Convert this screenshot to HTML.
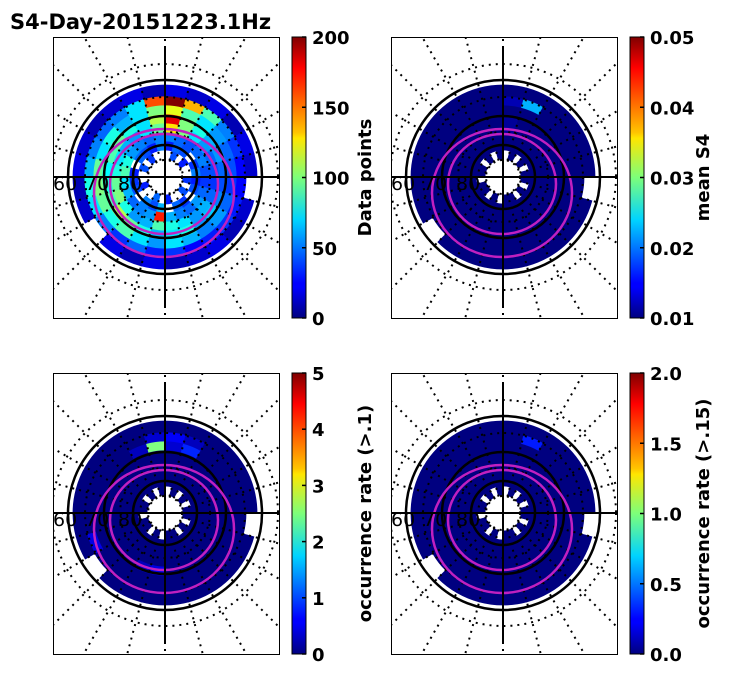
<!DOCTYPE html>
<html><head><meta charset="utf-8"><style>
body{margin:0;background:#fff;}
svg{display:block;font-family:"DejaVu Sans","Liberation Sans",sans-serif;}
</style></head><body>
<svg id="fig" width="731" height="674" viewBox="0 0 731 674">
<defs>
<linearGradient id="jet" x1="0" y1="1" x2="0" y2="0">
<stop offset="0" stop-color="#000080"/><stop offset="0.11" stop-color="#0000ff"/>
<stop offset="0.125" stop-color="#0000ff"/><stop offset="0.35" stop-color="#00d4ff"/>
<stop offset="0.5" stop-color="#7dff7a"/><stop offset="0.64" stop-color="#ffe600"/>
<stop offset="0.66" stop-color="#ffc400"/><stop offset="0.89" stop-color="#ff0000"/>
<stop offset="1" stop-color="#800000"/>
</linearGradient>
</defs>
<text x="10" y="29" font-size="21" font-weight="bold">S4-Day-20151223.1Hz</text>
</svg>
<script>
const ringEdges=[18,27,36,45,54,63,72,81,92];
const dpRings=[
[null,40,null,30,null,null,35,null,40,null,null,30,null,45,null,null,30,null,null,40,null,35,null,null],
[30,45,40,null,35,50,30,40,null,35,45,null,60,40,50,null,40,35,30,null,45,40,30,50],
[50,45,40,45,50,40,35,45,55,45,50,60,170,55,50,45,60,70,90,80,55,50,45,50],
[130,100,70,55,45,40,35,45,60,55,70,80,90,60,55,80,100,95,80,70,60,55,70,95],
[180,100,80,60,55,45,40,50,65,55,80,70,60,80,95,110,90,80,75,90,95,80,70,110],
[120,90,70,55,45,40,35,45,55,50,60,70,55,70,90,80,95,100,95,70,80,60,70,100],
[200,140,90,50,35,25,25,30,35,30,25,35,30,45,35,50,70,80,60,50,45,50,70,160],
[20,15,20,10,20,15,null,15,10,20,15,10,20,10,20,null,15,10,20,15,10,15,20,10]];
const s4Rings=[
[null,0.01,null,0.01,null,0.01,0.01,null,0.01,null,0.01,0.01,null,0.01,null,0.01,0.01,null,0.01,0.01,null,0.01,null,0.01],
[0.01,0.01,0.01,0.01,0.01,0.01,0.01,0.01,0.01,0.01,0.01,0.01,0.01,0.01,0.01,0.01,0.01,0.01,0.01,0.01,0.01,0.01,0.01,0.01],
[0.01,0.01,0.01,0.01,0.01,0.01,0.01,0.01,0.01,0.01,0.01,0.01,0.01,0.01,0.01,0.01,0.01,0.01,0.01,0.01,0.01,0.01,0.01,0.01],
[0.011,0.01,0.01,0.01,0.01,0.01,0.01,0.01,0.01,0.01,0.01,0.01,0.01,0.01,0.01,0.01,0.01,0.01,0.01,0.01,0.01,0.01,0.01,0.01],
[0.011,0.01,0.01,0.01,0.01,0.01,0.01,0.01,0.01,0.01,0.01,0.01,0.01,0.01,0.01,0.01,0.01,0.01,0.01,0.01,0.01,0.01,0.01,0.01],
[0.01,0.01,0.01,0.01,0.01,0.01,0.01,0.01,0.01,0.01,0.01,0.01,0.01,0.01,0.01,0.01,0.01,0.01,0.01,0.01,0.01,0.01,0.01,0.01],
[0.012,0.022,0.01,0.01,0.01,0.01,0.01,0.01,0.01,0.01,0.01,0.01,0.01,0.01,0.01,0.01,0.01,0.01,0.01,0.01,0.01,0.01,0.01,0.01],
[0.01,0.01,0.01,0.01,0.01,0.01,null,0.01,0.01,0.01,0.01,0.01,0.01,0.01,0.01,null,0.01,0.01,0.01,0.01,0.01,0.01,0.01,0.01]];
const oc1Rings=[
[null,0,null,0,null,0,0,null,0,null,0,0,null,0,null,0,0,null,0,0,null,0,null,0],
[0,0,0,0,0,0,0,0,0,0,0,0,0,0,0,0,0,0,0,0,0,0,0,0],
[0,0,0,0,0,0,0,0,0,0,0,0,0,0,0,0,0,0,0,0,0,0,0,0],
[0,0,0,0,0,0,0,0,0,0,0,0,0,0,0,0,0,0,0,0,0,0,0,0],
[0,0,0,0,0,0,0,0,0,0,0,0,0.5,0.3,0,0,0,0,0,0,0,0,0,0],
[0.4,0.8,0,0,0,0,0,0,0,0,0,0,0,0,0,0,0,0,0,0,0,0,0.3,2.5],
[0.6,0.3,0,0,0,0,0,0,0,0,0,0,0,0,0,0,0.5,0,0,0,0,0,0,0.4],
[0,0,0,0,0,0,null,0,0,0,0,0,0,0,0,null,0,0,0,0,0,0,0,0]];
const oc2Rings=[
[null,0,null,0,null,0,0,null,0,null,0,0,null,0,null,0,0,null,0,0,null,0,null,0],
[0,0,0,0,0,0,0,0,0,0,0,0,0,0,0,0,0,0,0,0,0,0,0,0],
[0,0,0,0,0,0,0,0,0,0,0,0,0,0,0,0,0,0,0,0,0,0,0,0],
[0,0,0,0,0,0,0,0,0,0,0,0,0,0,0,0,0,0,0,0,0,0,0,0],
[0,0,0,0,0,0,0,0,0,0,0,0,0,0,0,0,0,0,0,0,0,0,0,0],
[0,0,0,0,0,0,0,0,0,0,0,0,0,0,0,0,0,0,0,0,0,0,0,0],
[0,0.3,0,0,0,0,0,0,0,0,0,0,0,0,0,0,0,0,0,0,0,0,0,0],
[0,0,0,0,0,0,null,0,0,0,0,0,0,0,0,null,0,0,0,0,0,0,0,0]];
const dpTicks=["0","50","100","150","200"];
const s4Ticks=["0.01","0.02","0.03","0.04","0.05"];
const oc1Ticks=["0","1","2","3","4","5"];
const oc2Ticks=["0.0","0.5","1.0","1.5","2.0"];

const NS="http://www.w3.org/2000/svg";
const svg=document.getElementById('fig');
function mk(tag,attrs,parent){const e=document.createElementNS(NS,tag);for(const k in attrs)e.setAttribute(k,attrs[k]);(parent||svg).appendChild(e);return e;}
function jet(t){t=Math.max(0,Math.min(1,t));
 const r=Math.max(0,Math.min(1,1.5-Math.abs(4*t-3))),g=Math.max(0,Math.min(1,1.5-Math.abs(4*t-2))),b=Math.max(0,Math.min(1,1.5-Math.abs(4*t-1)));
 return `rgb(${Math.round(r*255)},${Math.round(g*255)},${Math.round(b*255)})`;}
function arcCell(cx,cy,r0,r1,a0,a1){
 const p=(r,a)=>[cx+r*Math.sin(a),cy-r*Math.cos(a)];
 const [x0,y0]=p(r1,a0),[x1,y1]=p(r1,a1),[x2,y2]=p(r0,a1),[x3,y3]=p(r0,a0);
 return `M${x0} ${y0}A${r1} ${r1} 0 0 1 ${x1} ${y1}L${x2} ${y2}A${r0} ${r0} 0 0 0 ${x3} ${y3}Z`;}

function panel(bx,by,rings,vmin,vmax,ticks,label,cbName){
 const w=226,h=281,cx=bx+112,cy=by+140;
 const g=mk('g',{});
 
 
 const cid='c'+bx+'_'+by;
 const cp=mk('clipPath',{id:cid},g);mk('rect',{x:bx,y:by,width:w,height:h},cp);
 const inner=mk('g',{'clip-path':`url(#${cid})`},g);
 const n=24;
 rings.forEach((row,ri)=>{row.forEach((v,si)=>{
  if(v===null)return;
  const a0=si*2*Math.PI/n,a1=(si+1)*2*Math.PI/n;
  const col=jet((v-vmin)/(vmax-vmin));
  const c=mk('path',{d:arcCell(cx,cy,ringEdges[ri],ringEdges[ri+1],a0,a1),fill:col,stroke:col,'stroke-width':0.8},inner);
  
  
 });});
 for(let k=0;k<24;k++){const a=k*Math.PI/12;
  const s=mk('line',{x1:cx+17*Math.sin(a),y1:cy-17*Math.cos(a),x2:cx+160*Math.sin(a),y2:cy-160*Math.cos(a),stroke:'#000','stroke-width':2,'stroke-dasharray':'2 5'},inner);
  
  }
 [17,45,80,113].forEach(r=>{const c=mk('circle',{cx,cy,r,fill:'none',stroke:'#000','stroke-width':2,'stroke-dasharray':'2 5'},inner);
  
  });
 [32,61,97].forEach(r=>{const c=mk('circle',{cx,cy,r,fill:'none',stroke:'#000','stroke-width':2.5},inner);
  
  });
 const e1=mk('ellipse',{cx:cx-1,cy:cy+16,rx:70,ry:64,fill:'none',stroke:'#c020c0','stroke-width':2.5},inner);
 
 
 const e2=mk('ellipse',{cx:cx-1,cy:cy+7,rx:54,ry:50,fill:'none',stroke:'#c020c0','stroke-width':2.5},inner);
 
 
 const hl=mk('line',{x1:bx,y1:cy,x2:bx+w,y2:cy,stroke:'#000','stroke-width':2},inner);
 
 
 const vl=mk('line',{x1:cx,y1:by+10,x2:cx,y2:by+h-12,stroke:'#000','stroke-width':2},inner);
 
 
 [['60',bx],['70',bx+32],['80',bx+65]].forEach(([t,x])=>{const tx=mk('text',{x,y:cy+13,'font-size':19},inner);tx.textContent=t;
  
  });
 const fr=mk('rect',{x:bx+0.5,y:by+0.5,width:w,height:h,fill:'none',stroke:'#000','stroke-width':1},g);
 
 
 const cbx=bx+239,cbw=14;
 const cb=mk('rect',{x:cbx,y:by,width:cbw,height:h,fill:'url(#jet)',stroke:'#000','stroke-width':1},g);
 
 
 ticks.forEach((t,i)=>{const y=by+h-i*h/(ticks.length-1);
  mk('line',{x1:cbx+cbw-4,y1:y,x2:cbx+cbw,y2:y,stroke:'#000','stroke-width':1.5},g);
  const tx=mk('text',{x:cbx+20,y:y+7,'font-size':18,'font-weight':'bold'},g);tx.textContent=t;
  
  });
 const lab=mk('text',{x:0,y:0,'font-size':18,'font-weight':'bold','text-anchor':'middle',transform:`translate(${cbx+79},${by+h/2}) rotate(-90)`},g);
 lab.textContent=label;
 
 
}
panel(53,37,dpRings,0,200,dpTicks,'Data points','data-points');
panel(391,37,s4Rings,0.01,0.05,s4Ticks,'mean S4','mean-s4');
panel(53,373,oc1Rings,0,5,oc1Ticks,'occurrence rate (>.1)','occurrence-01');
panel(391,373,oc2Rings,0,2,oc2Ticks,'occurrence rate (>.15)','occurrence-015');
</script>
</body></html>
